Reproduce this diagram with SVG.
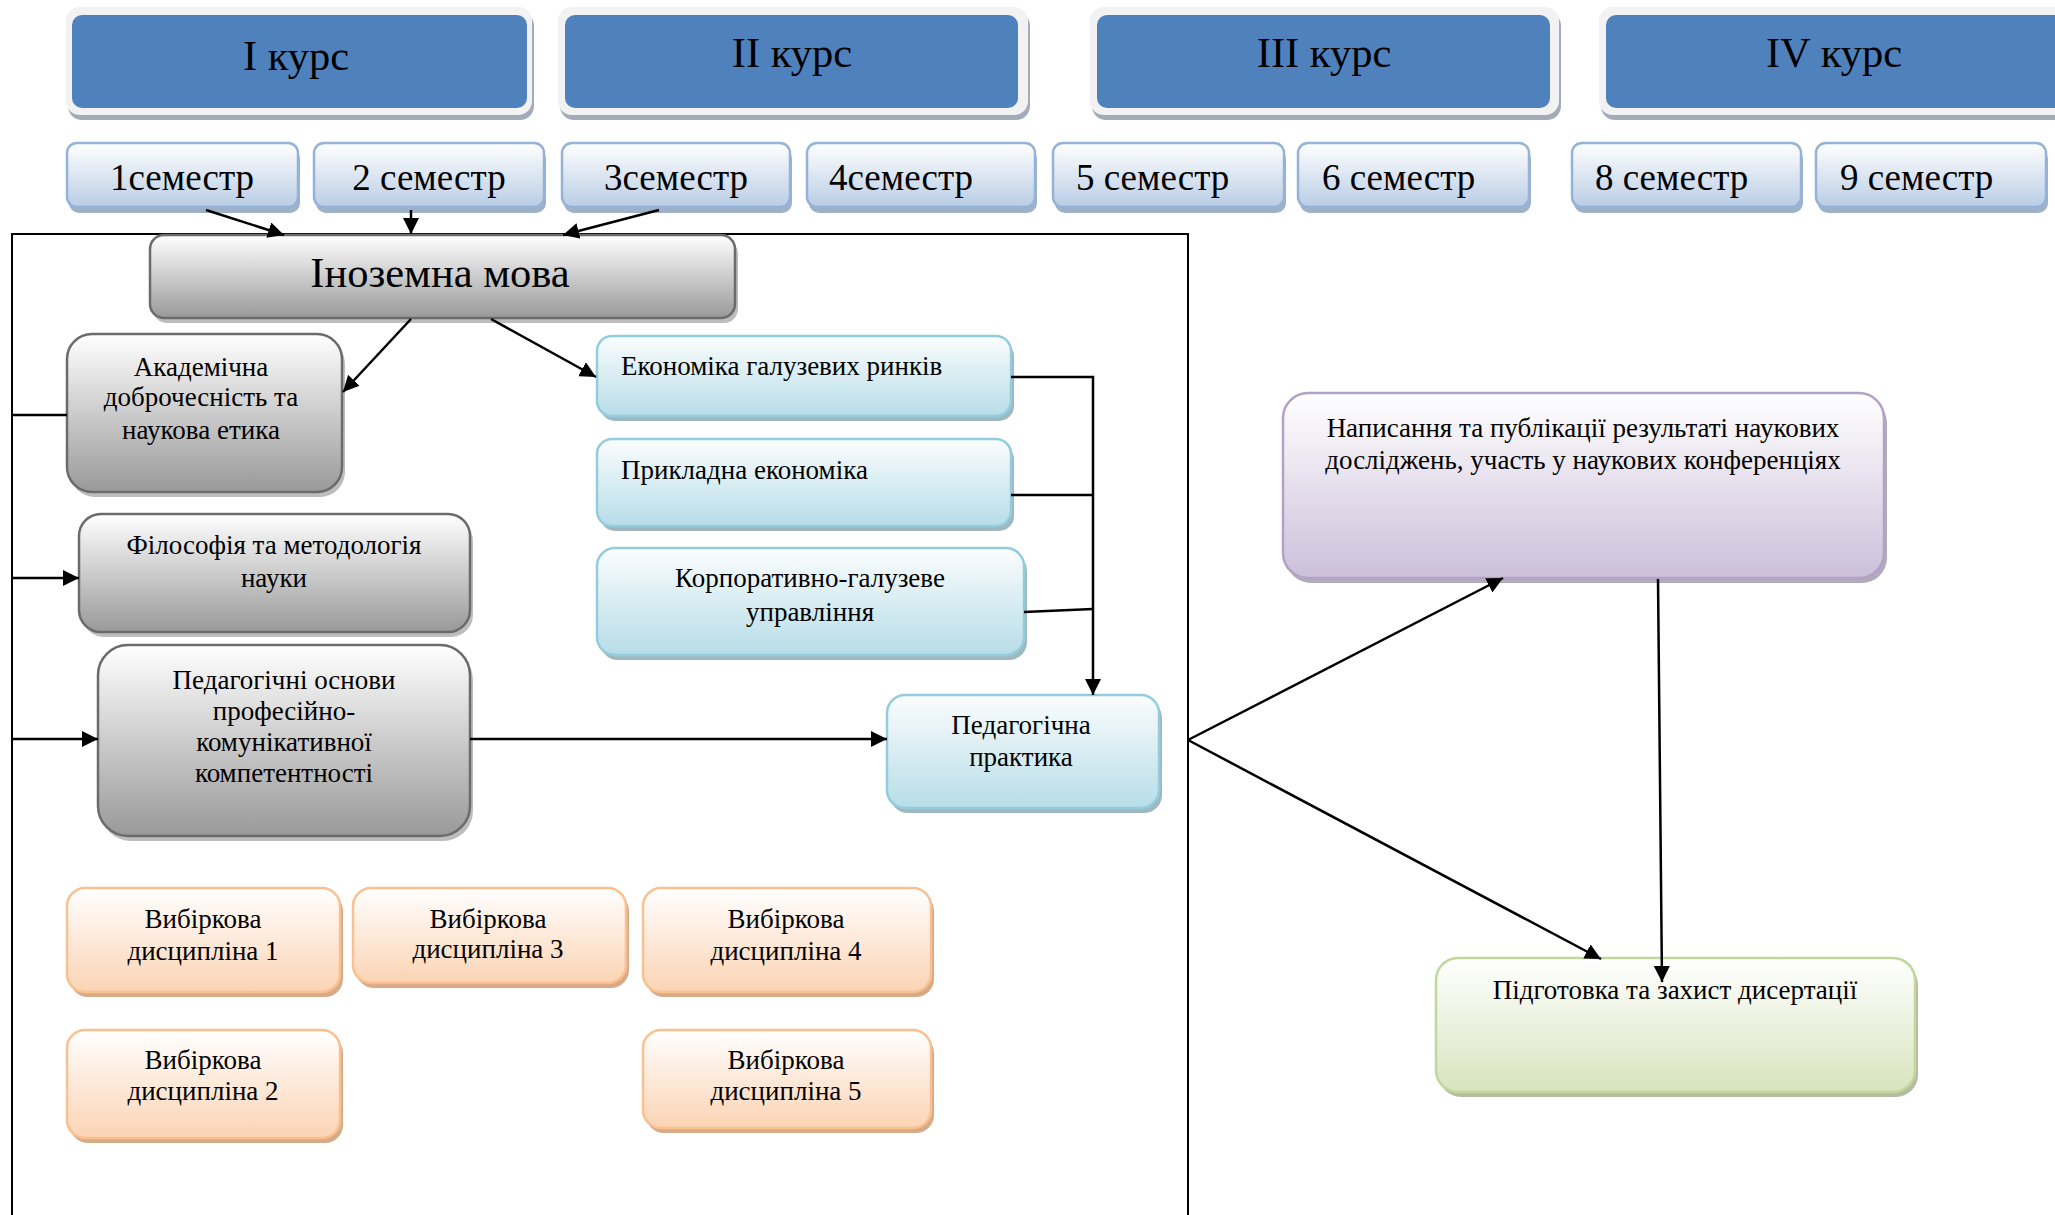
<svg xmlns="http://www.w3.org/2000/svg" width="2055" height="1215" viewBox="0 0 2055 1215">
<defs>
<linearGradient id="gSem" x1="0" y1="0" x2="0" y2="1"><stop offset="0" stop-color="#ffffff"/><stop offset="1" stop-color="#b9cde5"/></linearGradient>
<linearGradient id="gGray" x1="0" y1="0" x2="0" y2="1"><stop offset="0" stop-color="#ffffff"/><stop offset="1" stop-color="#999999"/></linearGradient>
<linearGradient id="gBlue" x1="0" y1="0" x2="0" y2="1"><stop offset="0" stop-color="#fbfdfe"/><stop offset="1" stop-color="#b7dde8"/></linearGradient>
<linearGradient id="gPur" x1="0" y1="0" x2="0" y2="1"><stop offset="0" stop-color="#ffffff"/><stop offset="1" stop-color="#ccc0da"/></linearGradient>
<linearGradient id="gGrn" x1="0" y1="0" x2="0" y2="1"><stop offset="0" stop-color="#ffffff"/><stop offset="1" stop-color="#d7e4bd"/></linearGradient>
<linearGradient id="gOr" x1="0" y1="0" x2="0" y2="1"><stop offset="0" stop-color="#ffffff"/><stop offset="1" stop-color="#fbd4b4"/></linearGradient>
<marker id="ar" markerUnits="userSpaceOnUse" markerWidth="18" markerHeight="16" refX="16" refY="8" orient="auto"><path d="M0,0 L16,8 L0,16 Z" fill="#000"/></marker>
</defs>
<style>
text{font-family:"Liberation Serif","Times New Roman",serif;fill:#000}
.tc{text-anchor:middle}
.big{font-size:42.5px}
.sem{font-size:37px}
.t{font-size:27px}
.frame{fill:#f2f2f2}
.cshadow{fill:#a3abb9}
.course{fill:#4f81bd}
.semb{fill:url(#gSem);stroke:#95b3d7;stroke-width:2.5}
.semsh{fill:#9fb1c9}
.gray{fill:url(#gGray);stroke:#6b6b6b;stroke-width:2.5}
.graysh{fill:#bdbdbd}
.lb{fill:url(#gBlue);stroke:#93cddd;stroke-width:2.5}
.lbsh{fill:#9fb8c0}
.pur{fill:url(#gPur);stroke:#b3a2c7;stroke-width:2.5}
.pursh{fill:#b2abba}
.grn{fill:url(#gGrn);stroke:#c3d69b;stroke-width:2.5}
.grnsh{fill:#b4bca4}
.or{fill:url(#gOr);stroke:#fac090;stroke-width:2.5}
.orsh{fill:#d7aa88}
.ln{fill:none;stroke:#000;stroke-width:2.5}
.box{fill:none;stroke:#000;stroke-width:2}
</style>

<g id="container"><rect class="box" x="12" y="234" width="1176" height="1010"/></g>

<g id="course1"><rect class="cshadow" x="68" y="12" width="466" height="108" rx="14"/><rect class="frame" x="66" y="7" width="466" height="108" rx="14"/><rect class="course" x="72" y="15" width="455" height="93" rx="10"/><text class="big tc" x="296" y="70">I курс</text></g>
<g id="course2"><rect class="cshadow" x="560" y="12" width="470" height="108" rx="14"/><rect class="frame" x="558" y="7" width="470" height="108" rx="14"/><rect class="course" x="565" y="15" width="453" height="93" rx="10"/><text class="big tc" x="792" y="67">II курс</text></g>
<g id="course3"><rect class="cshadow" x="1092" y="12" width="469" height="108" rx="14"/><rect class="frame" x="1090" y="7" width="469" height="108" rx="14"/><rect class="course" x="1097" y="15" width="453" height="93" rx="10"/><text class="big tc" x="1324" y="67">III курс</text></g>
<g id="course4"><rect class="cshadow" x="1601" y="12" width="480" height="108" rx="14"/><rect class="frame" x="1599" y="7" width="480" height="108" rx="14"/><rect class="course" x="1606" y="15" width="470" height="93" rx="10"/><text class="big tc" x="1834" y="67">IV курс</text></g>

<g id="sem1"><rect class="semsh" x="69" y="149" width="231" height="64" rx="10"/><rect class="semb" x="67" y="143" width="231" height="64" rx="10"/><text class="sem tc" x="182" y="190">1семестр</text></g>
<g id="sem2"><rect class="semsh" x="316" y="149" width="230" height="64" rx="10"/><rect class="semb" x="314" y="143" width="230" height="64" rx="10"/><text class="sem tc" x="429" y="190">2 семестр</text></g>
<g id="sem3"><rect class="semsh" x="564" y="149" width="228" height="64" rx="10"/><rect class="semb" x="562" y="143" width="228" height="64" rx="10"/><text class="sem tc" x="676" y="190">3семестр</text></g>
<g id="sem4"><rect class="semsh" x="809" y="149" width="228" height="64" rx="10"/><rect class="semb" x="807" y="143" width="228" height="64" rx="10"/><text class="sem" x="829" y="190">4семестр</text></g>
<g id="sem5"><rect class="semsh" x="1055" y="149" width="231" height="64" rx="10"/><rect class="semb" x="1053" y="143" width="231" height="64" rx="10"/><text class="sem" x="1076" y="190">5 семестр</text></g>
<g id="sem6"><rect class="semsh" x="1300" y="149" width="231" height="64" rx="10"/><rect class="semb" x="1298" y="143" width="231" height="64" rx="10"/><text class="sem" x="1322" y="190">6 семестр</text></g>
<g id="sem8"><rect class="semsh" x="1574" y="149" width="229" height="64" rx="10"/><rect class="semb" x="1572" y="143" width="229" height="64" rx="10"/><text class="sem" x="1595" y="190">8 семестр</text></g>
<g id="sem9"><rect class="semsh" x="1818" y="149" width="230" height="64" rx="10"/><rect class="semb" x="1816" y="143" width="230" height="64" rx="10"/><text class="sem" x="1840" y="190">9 семестр</text></g>

<g id="foreign"><rect class="graysh" x="153" y="240" width="585" height="83" rx="14"/><rect class="gray" x="150" y="235" width="585" height="83" rx="14"/><text class="tc" style="font-size:42.5px" x="440" y="287">Іноземна мова</text></g>
<g id="academic"><rect class="graysh" x="70" y="339" width="275" height="158" rx="25"/><rect class="gray" x="67" y="334" width="275" height="158" rx="25"/><text class="t tc" x="201" y="376">Академічна</text><text class="t tc" x="201" y="406">доброчесність та</text><text class="t tc" x="201" y="439">наукова етика</text></g>
<g id="philosophy"><rect class="graysh" x="82" y="519" width="391" height="118" rx="22"/><rect class="gray" x="79" y="514" width="391" height="118" rx="22"/><text class="t tc" x="274" y="554">Філософія та методологія</text><text class="t tc" x="274" y="587">науки</text></g>
<g id="pedagogy"><rect class="graysh" x="101" y="650" width="372" height="191" rx="30"/><rect class="gray" x="98" y="645" width="372" height="191" rx="30"/><text class="t tc" x="284" y="689">Педагогічні основи</text><text class="t tc" x="284" y="720">професійно-</text><text class="t tc" x="284" y="751">комунікативної</text><text class="t tc" x="284" y="782">компетентності</text></g>

<g id="economics"><rect class="lbsh" x="600" y="341" width="414" height="80" rx="15"/><rect class="lb" x="597" y="336" width="414" height="80" rx="15"/><text class="t" x="621" y="375">Економіка галузевих ринків</text></g>
<g id="applied"><rect class="lbsh" x="600" y="444" width="414" height="87" rx="15"/><rect class="lb" x="597" y="439" width="414" height="87" rx="15"/><text class="t" x="621" y="479">Прикладна економіка</text></g>
<g id="corporate"><rect class="lbsh" x="600" y="553" width="427" height="107" rx="18"/><rect class="lb" x="597" y="548" width="427" height="107" rx="18"/><text class="t tc" x="810" y="587">Корпоративно-галузеве</text><text class="t tc" x="810" y="621">управління</text></g>
<g id="practice"><rect class="lbsh" x="890" y="700" width="272" height="113" rx="18"/><rect class="lb" x="887" y="695" width="272" height="113" rx="18"/><text class="t tc" x="1021" y="734">Педагогічна</text><text class="t tc" x="1021" y="766">практика</text></g>

<g id="publications"><rect class="pursh" x="1286" y="398" width="601" height="185" rx="25"/><rect class="pur" x="1283" y="393" width="601" height="185" rx="25"/><text class="t tc" x="1583" y="437">Написання та публікації результаті наукових</text><text class="t tc" x="1583" y="469">досліджень, участь у наукових конференціях</text></g>
<g id="thesis"><rect class="grnsh" x="1439" y="963" width="479" height="134" rx="22"/><rect class="grn" x="1436" y="958" width="479" height="134" rx="22"/><text class="t tc" x="1675" y="999">Підготовка та захист дисертації</text></g>

<g id="elective1"><rect class="orsh" x="70" y="893" width="273" height="104" rx="18"/><rect class="or" x="67" y="888" width="273" height="104" rx="18"/><text class="t tc" x="203" y="928">Вибіркова</text><text class="t tc" x="203" y="960">дисципліна 1</text></g>
<g id="elective3"><rect class="orsh" x="356" y="893" width="273" height="95" rx="18"/><rect class="or" x="353" y="888" width="273" height="95" rx="18"/><text class="t tc" x="488" y="928">Вибіркова</text><text class="t tc" x="488" y="958">дисципліна 3</text></g>
<g id="elective4"><rect class="orsh" x="646" y="893" width="288" height="104" rx="18"/><rect class="or" x="643" y="888" width="288" height="104" rx="18"/><text class="t tc" x="786" y="928">Вибіркова</text><text class="t tc" x="786" y="960">дисципліна 4</text></g>
<g id="elective2"><rect class="orsh" x="70" y="1035" width="273" height="108" rx="18"/><rect class="or" x="67" y="1030" width="273" height="108" rx="18"/><text class="t tc" x="203" y="1069">Вибіркова</text><text class="t tc" x="203" y="1100">дисципліна 2</text></g>
<g id="elective5"><rect class="orsh" x="646" y="1035" width="288" height="98" rx="18"/><rect class="or" x="643" y="1030" width="288" height="98" rx="18"/><text class="t tc" x="786" y="1069">Вибіркова</text><text class="t tc" x="786" y="1100">дисципліна 5</text></g>

<g id="connectors">
<path class="ln" d="M206,210 L284,235" marker-end="url(#ar)"/>
<path class="ln" d="M411,210 L411,234" marker-end="url(#ar)"/>
<path class="ln" d="M659,210 L563,235" marker-end="url(#ar)"/>
<path class="ln" d="M411,319 L343,392" marker-end="url(#ar)"/>
<path class="ln" d="M491,319 L596,377" marker-end="url(#ar)"/>
<path class="ln" d="M12,415 L67,415"/>
<path class="ln" d="M12,578 L79,578" marker-end="url(#ar)"/>
<path class="ln" d="M12,739 L98,739" marker-end="url(#ar)"/>
<path class="ln" d="M470,739 L887,739" marker-end="url(#ar)"/>
<path class="ln" d="M1011,377 L1093,377 L1093,695" marker-end="url(#ar)"/>
<path class="ln" d="M1011,495 L1093,495"/>
<path class="ln" d="M1024,612 L1093,609"/>
<path class="ln" d="M1188,740 L1503,578" marker-end="url(#ar)"/>
<path class="ln" d="M1188,740 L1601,959" marker-end="url(#ar)"/>
<path class="ln" d="M1658,579 L1662,982" marker-end="url(#ar)"/>
</g>
</svg>
